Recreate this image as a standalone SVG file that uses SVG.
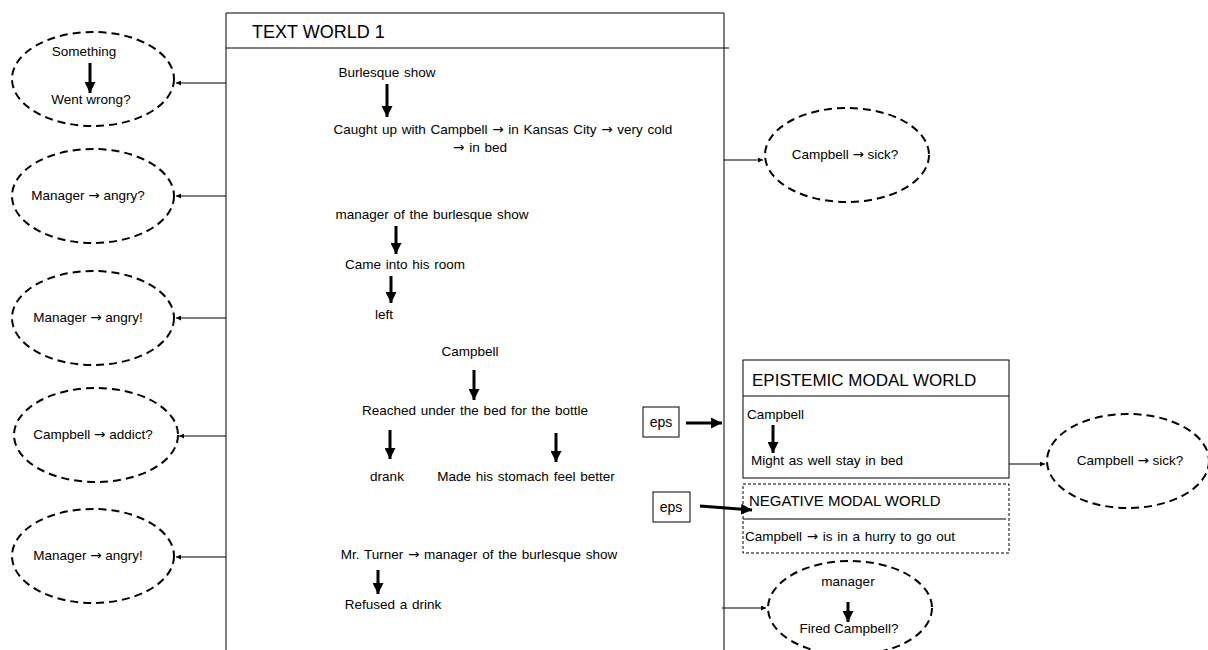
<svg xmlns="http://www.w3.org/2000/svg" width="1208" height="650" viewBox="0 0 1208 650">
<style>
text{font-family:"Liberation Sans",Arial,sans-serif;fill:#000}
.t{font-size:13.5px;word-spacing:1px}
.s{font-size:13.5px}
.h{font-size:18px}
.a{font-family:"DejaVu Sans",sans-serif}
.dash{fill:none;stroke:#000;stroke-width:2;stroke-dasharray:8 5}
.box{fill:none;stroke:#000;stroke-width:1}
.thin{fill:none;stroke:#000;stroke-width:1;marker-end:url(#sm)}
.thick{fill:none;stroke:#000;stroke-width:3;marker-end:url(#big)}
</style>
<defs>
<marker id="sm" viewBox="0 0 6 6" refX="6" refY="3" markerWidth="5" markerHeight="5" markerUnits="userSpaceOnUse" orient="auto"><path d="M0,0 L6,3 L0,6 z" fill="#000"/></marker>
<marker id="big" viewBox="0 0 10 10" refX="10" refY="5" markerWidth="11" markerHeight="11" markerUnits="userSpaceOnUse" orient="auto"><path d="M0,0 L10,5 L0,10 z" fill="#000"/></marker>
</defs>
<rect width="1208" height="650" fill="#fff"/>

<g id="textworld1">
<path class="box" d="M226,650 V13 H724 V650"/>
<line x1="226" y1="48" x2="729" y2="48" stroke="#000"/>
<text class="h" x="252" y="38">TEXT WORLD 1</text>
<text class="t" x="387" y="77" text-anchor="middle">Burlesque show</text>
<path class="thick" d="M387,84 V117"/>
<text class="t" x="503" y="134" text-anchor="middle">Caught up with Campbell <tspan class="a">→</tspan> in Kansas City <tspan class="a">→</tspan> very cold</text>
<text class="t" x="480" y="152" text-anchor="middle"><tspan class="a">→</tspan> in bed</text>
<text class="t" x="432" y="219" text-anchor="middle">manager of the burlesque show</text>
<path class="thick" d="M396,226 V254"/>
<text class="t" x="405" y="269" text-anchor="middle">Came into his room</text>
<path class="thick" d="M391,276 V303"/>
<text class="t" x="384" y="319" text-anchor="middle">left</text>
<text class="t" x="470" y="356" text-anchor="middle">Campbell</text>
<path class="thick" d="M474,370 V400"/>
<text class="t" x="475" y="415" text-anchor="middle">Reached under the bed for the bottle</text>
<path class="thick" d="M390,430 V459"/>
<path class="thick" d="M556,433 V462"/>
<text class="t" x="387" y="481" text-anchor="middle">drank</text>
<text class="t" x="526" y="481" text-anchor="middle">Made his stomach feel better</text>
<text class="t" x="479" y="559" text-anchor="middle">Mr. Turner <tspan class="a">→</tspan> manager of the burlesque show</text>
<path class="thick" d="M378,570 V594"/>
<text class="t" x="393" y="609" text-anchor="middle">Refused a drink</text>
</g>

<g id="l1">
<ellipse class="dash" cx="93" cy="79" rx="81" ry="47"/>
<text class="s" x="84" y="56" text-anchor="middle">Something</text>
<path class="thick" d="M90,63 V93"/>
<text class="s" x="91" y="104" text-anchor="middle">Went wrong?</text>
</g>
<g id="l2">
<ellipse class="dash" cx="93" cy="196" rx="81" ry="47"/>
<text class="s" x="88" y="200" text-anchor="middle">Manager <tspan class="a">→</tspan> angry?</text>
</g>
<g id="l3">
<ellipse class="dash" cx="93" cy="318" rx="81" ry="47"/>
<text class="s" x="88" y="322" text-anchor="middle">Manager <tspan class="a">→</tspan> angry!</text>
</g>
<g id="l4">
<ellipse class="dash" cx="96" cy="435" rx="82" ry="47"/>
<text class="s" x="93" y="439" text-anchor="middle">Campbell <tspan class="a">→</tspan> addict?</text>
</g>
<g id="l5">
<ellipse class="dash" cx="93" cy="556" rx="81" ry="47"/>
<text class="s" x="88" y="560" text-anchor="middle">Manager <tspan class="a">→</tspan> angry!</text>
</g>

<g id="r1">
<ellipse class="dash" cx="847" cy="155" rx="82" ry="47"/>
<text class="s" x="845" y="159" text-anchor="middle">Campbell <tspan class="a">→</tspan> sick?</text>
</g>
<g id="r2">
<ellipse class="dash" cx="1128" cy="461" rx="81" ry="47"/>
<text class="s" x="1130" y="465" text-anchor="middle">Campbell <tspan class="a">→</tspan> sick?</text>
</g>
<g id="r3">
<ellipse class="dash" cx="850" cy="608" rx="82" ry="47"/>
<text class="s" x="848" y="586" text-anchor="middle">manager</text>
<path class="thick" d="M848,602 V622"/>
<text class="s" x="849" y="633" text-anchor="middle">Fired Campbell?</text>
</g>

<g id="emw">
<rect class="box" x="743" y="360" width="266" height="118"/>
<line x1="743" y1="396" x2="1009" y2="396" stroke="#000"/>
<text class="h" x="752" y="386" style="font-size:17px">EPISTEMIC MODAL WORLD</text>
<text class="s" x="747" y="419">Campbell</text>
<path class="thick" d="M773,425 V453"/>
<text class="t" x="751" y="465">Might as well stay in bed</text>
</g>
<g id="nmw">
<rect x="743" y="484" width="266" height="69" fill="none" stroke="#000" stroke-width="1" stroke-dasharray="3 2"/>
<line x1="743" y1="519" x2="1006" y2="519" stroke="#000"/>
<text class="h" x="749" y="506" style="font-size:15px">NEGATIVE MODAL WORLD</text>
<text class="t" x="745" y="541">Campbell <tspan class="a">→</tspan> is in a hurry to go out</text>
</g>
<g id="eps1">
<rect class="box" x="643" y="407" width="36" height="30"/>
<text class="t" x="661" y="427" text-anchor="middle" style="font-size:14px">eps</text>
</g>
<g id="eps2">
<rect class="box" x="653" y="492" width="37" height="30"/>
<text class="t" x="671" y="512" text-anchor="middle" style="font-size:14px">eps</text>
</g>

<g id="connectors">
<path class="thin" d="M226,83 H176"/>
<path class="thin" d="M226,196 H176"/>
<path class="thin" d="M226,318 H176"/>
<path class="thin" d="M226,436 H179"/>
<path class="thin" d="M226,557 H176"/>
<path class="thin" d="M724,160 H763"/>
<path class="thin" d="M1009,464 H1045"/>
<path class="thin" d="M722,608 H766"/>
<path class="thick" d="M686,423 H722"/>
<path class="thick" d="M700,506 L752,510"/>
</g>
</svg>
